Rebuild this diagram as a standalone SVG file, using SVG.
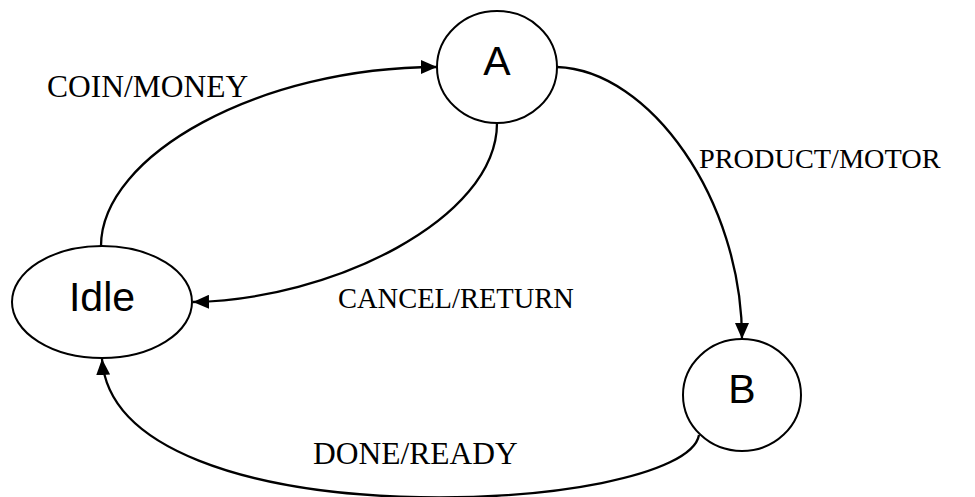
<svg xmlns="http://www.w3.org/2000/svg" width="975" height="497" viewBox="0 0 975 497">
<style>
.node{fill:#fff;stroke:#000;stroke-width:2}
.ntext{font-family:"Liberation Sans",Arial,sans-serif;font-size:41px;fill:#000;text-anchor:middle}
.edge{fill:none;stroke:#000;stroke-width:2.3}
.lbl{font-family:"Liberation Serif","Times New Roman",serif;fill:#000}
</style>
<defs>
<marker id="arr" markerUnits="userSpaceOnUse" markerWidth="16" markerHeight="14" refX="16" refY="7" orient="auto">
<path d="M0,0 L16,7 L0,14 Z" fill="#000"/>
</marker>
</defs>
<rect width="975" height="497" fill="#fff"/>
<g id="connectors">
<path class="edge" d="M101,246 C101,155 260,67 437,67" marker-end="url(#arr)"/>
<path class="edge" d="M557,67 C650,70 742,200 742,339" marker-end="url(#arr)"/>
<path class="edge" d="M497,123 C497,220 330,300 193,302" marker-end="url(#arr)"/>
<path class="edge" d="M699,435 C685,515 115,545 102,359" marker-end="url(#arr)"/>
<text class="lbl" x="47" y="97" font-size="31.5">COIN/MONEY</text>
<text class="lbl" x="699" y="168" font-size="28.3">PRODUCT/MOTOR</text>
<text class="lbl" x="338" y="308" font-size="28.5">CANCEL/RETURN</text>
<text class="lbl" x="313" y="464" font-size="31.5">DONE/READY</text>
</g>
<g id="node-A">
<ellipse class="node" cx="497" cy="67" rx="60" ry="56"/>
<text class="ntext" x="497" y="75">A</text>
</g>
<g id="node-Idle">
<ellipse class="node" cx="102" cy="302" rx="90" ry="56"/>
<text class="ntext" x="102" y="311">Idle</text>
</g>
<g id="node-B">
<ellipse class="node" cx="742" cy="395" rx="59" ry="56"/>
<text class="ntext" x="742" y="403">B</text>
</g>
</svg>
